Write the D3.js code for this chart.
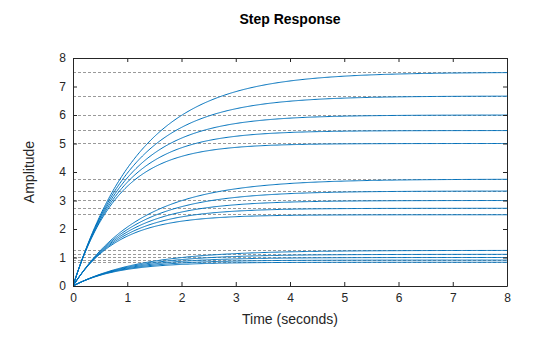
<!DOCTYPE html>
<html>
<head>
<meta charset="utf-8">
<script src="https://cdn.jsdelivr.net/npm/d3@7"></script>
<style>
  html, body { margin: 0; padding: 0; background: #fff; }
  text { font-family: Arial, "Liberation Sans", Helvetica, sans-serif; }
</style>
</head>
<body>
<svg id="chart" width="560" height="337"></svg>
<script>
// Models G(s) = b / (s + a)
const numeratorGains = [6, 3, 1];            // b for the three families
const poleValues = [0.8, 0.9, 1.0, 1.1, 1.2]; // a within each family
const xTicks = [0, 1, 2, 3, 4, 5, 6, 7, 8];
const yTicks = [0, 1, 2, 3, 4, 5, 6, 7, 8];
const timeRange = [0, 8];
const ampRange = [0, 8];

const W = 560, H = 337;
const m = { left: 73, right: 53, top: 58, bottom: 51 };
const svg = d3.select("#chart");

const x = d3.scaleLinear().domain(timeRange).range([m.left, W - m.right]);
const y = d3.scaleLinear().domain(ampRange).range([H - m.bottom, m.top]);

const axisColor = "#262626";
const lineColor = "#0072BD";

// build systems
const systems = [];
numeratorGains.forEach(b => poleValues.forEach(a => systems.push({ b, a, final: b / a })));

const nSamples = 401;
const times = d3.range(nSamples).map(i => timeRange[0] + (timeRange[1] - timeRange[0]) * i / (nSamples - 1));

const plot = svg.append("g");
plot.append("clipPath").attr("id", "clip")
  .append("rect").attr("x", m.left).attr("y", m.top)
  .attr("width", W - m.left - m.right).attr("height", H - m.top - m.bottom);

// steady-state lines
plot.append("g").selectAll("line").data(systems).join("line")
  .attr("x1", x(timeRange[0])).attr("x2", x(timeRange[1]))
  .attr("y1", d => y(d.final)).attr("y2", d => y(d.final))
  .attr("stroke", "#9a9a9a").attr("stroke-width", 1)
  .attr("stroke-dasharray", "3,2")
  .attr("shape-rendering", "crispEdges");

// responses
const line = d3.line().x(d => x(d[0])).y(d => y(d[1]));
plot.append("g").attr("clip-path", "url(#clip)").selectAll("path").data(systems).join("path")
  .attr("d", s => line(times.map(t => [t, s.final * (1 - Math.exp(-s.a * t))])))
  .attr("fill", "none").attr("stroke", lineColor).attr("stroke-width", 1);

// axes
const tickLen = 4;
const styleAxis = g => {
  g.selectAll("path").attr("stroke", axisColor);
  g.selectAll("line").attr("stroke", axisColor);
  g.selectAll("text").attr("fill", axisColor).style("font-size", "12px")
    .style("font-family", "Arial, 'Liberation Sans', sans-serif");
};
svg.append("g").attr("transform", `translate(0,${H - m.bottom})`)
  .call(d3.axisBottom(x).tickValues(xTicks).tickFormat(d3.format("d")).tickSizeInner(-tickLen).tickSizeOuter(0).tickPadding(7))
  .call(styleAxis);
svg.append("g").attr("transform", `translate(0,${m.top})`)
  .call(d3.axisTop(x).tickValues(xTicks).tickFormat("").tickSizeInner(-tickLen).tickSizeOuter(0))
  .call(styleAxis);
svg.append("g").attr("transform", `translate(${m.left},0)`)
  .call(d3.axisLeft(y).tickValues(yTicks).tickFormat(d3.format("d")).tickSizeInner(-tickLen).tickSizeOuter(0).tickPadding(7))
  .call(styleAxis);
svg.append("g").attr("transform", `translate(${W - m.right},0)`)
  .call(d3.axisRight(y).tickValues(yTicks).tickFormat("").tickSizeInner(-tickLen).tickSizeOuter(0))
  .call(styleAxis);

// labels
svg.append("text").attr("x", (m.left + W - m.right) / 2).attr("y", 24)
  .attr("text-anchor", "middle").attr("font-weight", "bold").attr("font-size", "14px").attr("fill", "#000")
  .text("Step Response");
svg.append("text").attr("x", (m.left + W - m.right) / 2).attr("y", 324)
  .attr("text-anchor", "middle").attr("font-size", "14px").attr("fill", axisColor)
  .text("Time (seconds)");
svg.append("text").attr("transform", `translate(34,${(m.top + H - m.bottom) / 2}) rotate(-90)`)
  .attr("text-anchor", "middle").attr("font-size", "14px").attr("fill", axisColor)
  .text("Amplitude");
</script>
</body>
</html>
